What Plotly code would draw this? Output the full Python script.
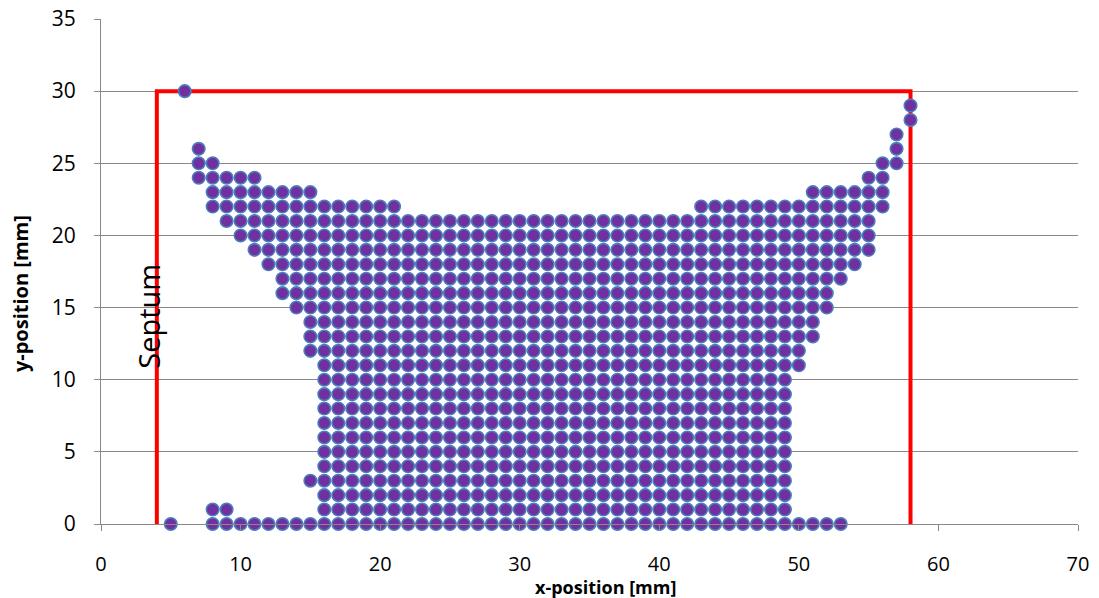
import plotly.graph_objects as go

# Measured positions: for each y-row, the inclusive x-spans (mm) occupied by points
row_y = [30, 29, 28, 27, 26, 25, 24, 23, 22, 21, 20, 19, 18, 17, 16, 15,
         14, 13, 12, 11, 10, 9, 8, 7, 6, 5, 4, 3, 2, 1, 0]
row_spans = [
    [(6, 6)],
    [(58, 58)],
    [(58, 58)],
    [(57, 57)],
    [(7, 7), (57, 57)],
    [(7, 8), (56, 57)],
    [(7, 11), (55, 56)],
    [(8, 15), (51, 56)],
    [(8, 21), (43, 56)],
    [(9, 55)],
    [(10, 55)],
    [(11, 55)],
    [(12, 54)],
    [(13, 53)],
    [(13, 52)],
    [(14, 52)],
    [(15, 51)],
    [(15, 51)],
    [(15, 50)],
    [(16, 50)],
    [(16, 49)],
    [(16, 49)],
    [(16, 49)],
    [(16, 49)],
    [(16, 49)],
    [(16, 49)],
    [(16, 49)],
    [(15, 49)],
    [(16, 49)],
    [(8, 9), (16, 49)],
    [(5, 5), (8, 53)],
]

# Septum outline (mm)
septum_x = [4, 4, 58, 58]
septum_y = [0, 30, 30, 0]

x_ticks = [0, 10, 20, 30, 40, 50, 60, 70]
y_ticks = [0, 5, 10, 15, 20, 25, 30, 35]

pts_x, pts_y = [], []
for y, spans in zip(row_y, row_spans):
    for a, b in spans:
        for x in range(a, b + 1):
            pts_x.append(x)
            pts_y.append(y)

FONT = "Open Sans"
GRID = "#898989"

fig = go.Figure()
fig.add_trace(go.Scatter(
    x=septum_x, y=septum_y, mode="lines",
    line=dict(color="#FF0000", width=4),
    cliponaxis=False, hoverinfo="skip", showlegend=False,
))
fig.add_trace(go.Scatter(
    x=pts_x, y=pts_y, mode="markers",
    marker=dict(symbol="circle", size=12.5, color="#7030A0",
                line=dict(color="#4A7EBB", width=1.6)),
    cliponaxis=False, showlegend=False,
))

fig.update_layout(
    width=1099, height=598, autosize=False,
    margin=dict(l=101, r=21, t=19, b=74),
    paper_bgcolor="white", plot_bgcolor="white",
    font=dict(family=FONT, size=20, color="#000000"),
    xaxis=dict(
        range=[0, 70], tickvals=x_ticks, showgrid=False, zeroline=False,
        automargin=False,
        showline=True, linecolor=GRID, linewidth=1,
        ticks="outside", ticklen=6, tickcolor=GRID, tickwidth=1,
        ticklabelstandoff=16, tickfont=dict(family=FONT, size=20),
    ),
    yaxis=dict(
        range=[0, 35], tickvals=y_ticks, showgrid=True, gridcolor=GRID,
        gridwidth=1, zeroline=False, automargin=False,
        showline=True, linecolor=GRID, linewidth=1,
        ticks="outside", ticklen=6, tickcolor=GRID, tickwidth=1,
        ticklabelstandoff=14, tickfont=dict(family=FONT, size=21),
    ),
    annotations=[
        dict(text="<b>x-position [mm]</b>", xref="paper", yref="paper",
             x=0.516, y=-0.124, xanchor="center", yanchor="middle",
             showarrow=False, font=dict(family=FONT, size=18)),
        dict(text="<b>y-position [mm]</b>", xref="paper", yref="paper",
             x=-0.083, y=0.457, xanchor="center", yanchor="middle",
             textangle=-90, showarrow=False, font=dict(family=FONT, size=20)),
        dict(text="Septum", xref="x", yref="y", x=3.4, y=14.4,
             xanchor="center", yanchor="middle", textangle=-90,
             showarrow=False, font=dict(family=FONT, size=29)),
    ],
)

fig.write_html("out.html")
